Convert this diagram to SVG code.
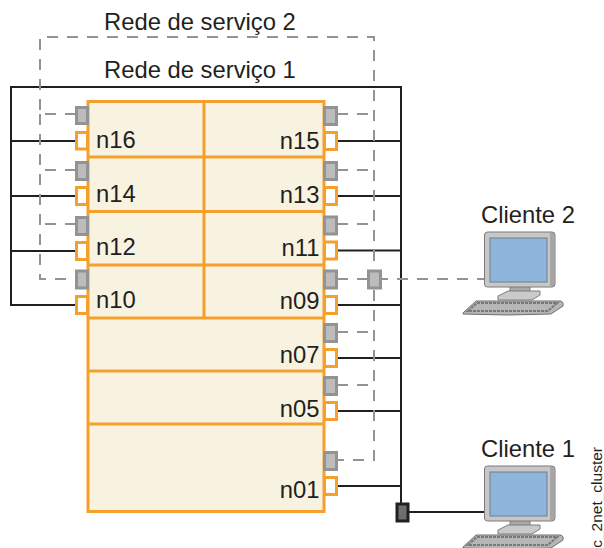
<svg xmlns="http://www.w3.org/2000/svg" xmlns:xlink="http://www.w3.org/1999/xlink" width="604" height="548" viewBox="0 0 604 548">
<style>
text{font-family:"Liberation Sans",Arial,sans-serif;font-size:23.800px;fill:#231f20}
.o{fill:#f8f2e0;stroke:#f6a02c;stroke-width:3}
.p{fill:#fff;stroke:#f6a02c;stroke-width:3}
.g{fill:#bcbcbc;stroke:#939393;stroke-width:3}
.k{fill:none;stroke:#231f20;stroke-width:2}
.d{fill:none;stroke:#939393;stroke-width:2;stroke-dasharray:11 9}
</style>
<defs>
<g id="pc">
<path d="M463 313l13-12h85q3 1 2 5l-12 8q-44 2-88 0z" fill="#b5b7b5" stroke="#6f706f"/>
<path d="M468 311l9-8h80l-9 8z" fill="none" stroke="#77797a" stroke-width="2" stroke-dasharray="3 1"/>
<path d="M510 285h20v7h-20z" fill="#a8a9a8" stroke="#808180"/>
<path d="M498 296l10-5h32v4l-8 5h-34z" fill="#c9cac9" stroke="#7c7d7c"/>
<rect x="484.500" y="232" width="70.500" height="55" rx="3" fill="#c6c7c6" stroke="#7a7b7a"/>
<path d="M550 233h4v53h-4z" fill="#a5a6a5"/>
<rect x="490" y="238" width="57" height="44" fill="#8eb5da" stroke="#6f7d8a"/>
</g>
</defs>
<g id="connectors">
<path class="k" d="M11 141V87H401V503M11 141V305H76M11 141H76M11 196H76M11 251H76M324 141H401M337 196H401M337 250.500H401M337 305H401M337 358H401M337 411H401M337 486H401M409 512H485"/>
<path class="d" d="M76 114H40V37H374V460H337"/>
<path class="d" d="M40 114V279H76"/>
<path class="d" d="M76 170H40M76 224H40M337 114H374M337 170H374M337 224H374M337 332H374M337 385H374"/>
<path class="d" d="M337 279H485"/>
</g>
<g id="cluster">
<rect class="o" x="88" y="101.500" width="236" height="410"/>
<path fill="none" stroke="#f6a02c" stroke-width="3" d="M204 101V318M88 157H324M88 211.500H324M88 265H324M88 318H324M88 371H324M88 424H324"/>
</g>
<g id="n16"><rect class="g" x="76.500" y="107.500" width="11" height="16"/><rect class="p" x="76.500" y="132.500" width="11" height="16.500"/><text x="96" y="148">n16</text></g>
<g id="n14"><rect class="g" x="76.500" y="162.500" width="11" height="17"/><rect class="p" x="76.500" y="187.500" width="11" height="17"/><text x="96" y="202">n14</text></g>
<g id="n12"><rect class="g" x="76.500" y="217.500" width="11" height="17"/><rect class="p" x="76.500" y="242.500" width="11" height="17"/><text x="96" y="255">n12</text></g>
<g id="n10"><rect class="g" x="76.500" y="271" width="11" height="17"/><rect class="p" x="76.500" y="296.500" width="11" height="17"/><text x="96" y="308">n10</text></g>
<g id="n15"><rect class="g" x="324.500" y="107.500" width="12" height="17"/><rect class="p" x="324.500" y="132.500" width="12" height="17"/><text x="319.500" y="149" text-anchor="end">n15</text></g>
<g id="n13"><rect class="g" x="324.500" y="162.500" width="12" height="17"/><rect class="p" x="324.500" y="187.500" width="12" height="17"/><text x="319.500" y="203" text-anchor="end">n13</text></g>
<g id="n11"><rect class="g" x="324.500" y="217" width="12" height="17"/><rect class="p" x="324.500" y="242" width="12" height="17"/><text x="319.500" y="256" text-anchor="end">n11</text></g>
<g id="n09"><rect class="g" x="324.500" y="271" width="12" height="17"/><rect class="p" x="324.500" y="296.500" width="12" height="17"/><text x="319.500" y="309" text-anchor="end">n09</text></g>
<g id="n07"><rect class="g" x="324.500" y="324.500" width="12" height="17"/><rect class="p" x="324.500" y="349.500" width="12" height="17"/><text x="319.500" y="363" text-anchor="end">n07</text></g>
<g id="n05"><rect class="g" x="324.500" y="377.500" width="12" height="17"/><rect class="p" x="324.500" y="402.500" width="12" height="17"/><text x="319.500" y="417" text-anchor="end">n05</text></g>
<g id="n01"><rect class="g" x="324.500" y="452.500" width="12" height="17"/><rect class="p" x="324.500" y="477.500" width="12" height="17"/><text x="319.500" y="498" text-anchor="end">n01</text></g>
<g id="hub2"><rect class="g" x="368.500" y="271" width="12" height="17"/></g>
<g id="hub1"><rect x="397" y="504" width="11" height="17" fill="#6d6e70" stroke="#231f20" stroke-width="3"/></g>
<g id="cliente2"><use xlink:href="#pc" href="#pc"/><text x="481" y="223">Cliente 2</text></g>
<g id="cliente1"><use xlink:href="#pc" href="#pc" y="234"/><text x="481" y="457">Cliente 1</text></g>
<text x="104" y="30">Rede de serviço 2</text>
<text x="104" y="78">Rede de serviço 1</text>
<text transform="translate(602 447) rotate(-90)" text-anchor="end" style="font-size:15.500px">c_2net_cluster</text>
</svg>
